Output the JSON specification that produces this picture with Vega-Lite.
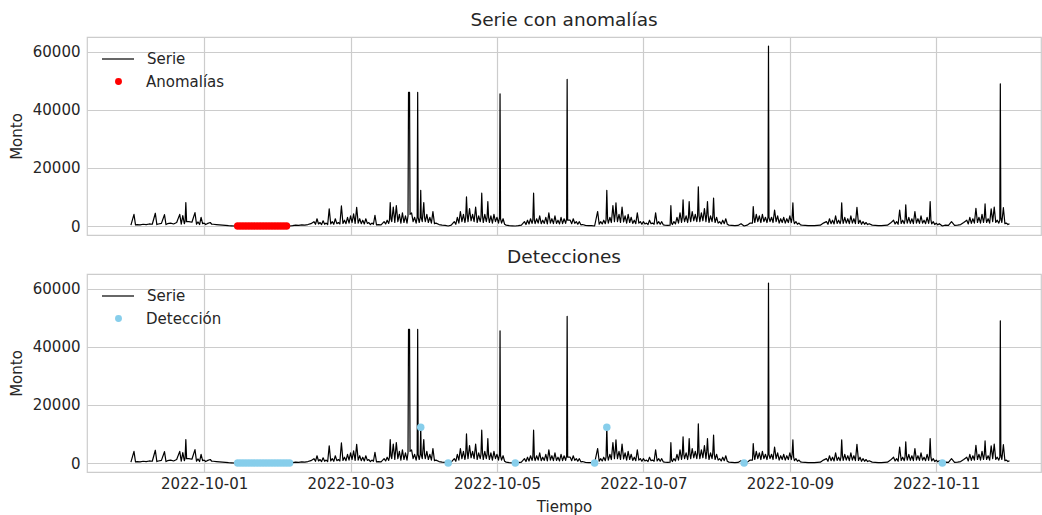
{
  "$schema": "https://vega.github.io/schema/vega-lite/v6.json",
  "background": "white",
  "padding": {"left": 8, "top": 9, "right": 0, "bottom": 0},
  "config": {
    "font": "DejaVu Sans",
    "view": {"stroke": "#cccccc", "strokeWidth": 1.2},
    "axis": {"labelFont": "DejaVu Sans", "labelFontSize": 15, "labelColor": "#262626", "titleFont": "DejaVu Sans", "titleFontSize": 15, "titleColor": "#262626", "titleFontWeight": "normal", "gridColor": "#cccccc", "gridWidth": 1.2, "gridOpacity": 1, "domain": false, "ticks": false, "labelPadding": 7, "titlePadding": 8},
    "title": {"font": "DejaVu Sans", "fontSize": 18.5, "fontWeight": "normal", "color": "#262626", "offset": 8, "frame": "group", "anchor": "middle"},
    "legend": {"labelFont": "DejaVu Sans", "labelFontSize": 15, "labelColor": "#262626", "title": null, "orient": "none", "padding": 0}
  },
  "datasets": {
    "serie": [
      {"t":"2022-09-30T00:00","v":300},{"t":"2022-09-30T01:00","v":4000},{"t":"2022-09-30T02:00","v":500},{"t":"2022-09-30T03:00","v":400},{"t":"2022-09-30T04:00","v":600},{"t":"2022-09-30T05:00","v":500},{"t":"2022-09-30T06:00","v":700},{"t":"2022-09-30T07:00","v":600},{"t":"2022-09-30T08:00","v":4400},{"t":"2022-09-30T09:00","v":700},{"t":"2022-09-30T10:00","v":900},{"t":"2022-09-30T11:00","v":3900},{"t":"2022-09-30T12:00","v":800},{"t":"2022-09-30T13:00","v":1000},{"t":"2022-09-30T14:00","v":700},{"t":"2022-09-30T15:00","v":1200},{"t":"2022-09-30T16:00","v":4000},{"t":"2022-09-30T17:00","v":3600},{"t":"2022-09-30T17:45","v":1500},{"t":"2022-09-30T18:00","v":8100},{"t":"2022-09-30T18:15","v":1500},{"t":"2022-09-30T19:00","v":1500},{"t":"2022-09-30T20:00","v":1300},{"t":"2022-09-30T21:00","v":4600},{"t":"2022-09-30T22:00","v":1400},{"t":"2022-09-30T23:00","v":3000},
      {"t":"2022-10-01T00:00","v":1000},{"t":"2022-10-01T01:00","v":800},{"t":"2022-10-01T02:00","v":1200},{"t":"2022-10-01T03:00","v":600},{"t":"2022-10-01T04:00","v":500},{"t":"2022-10-01T05:00","v":400},{"t":"2022-10-01T06:00","v":300},{"t":"2022-10-01T07:00","v":200},{"t":"2022-10-01T08:00","v":100},{"t":"2022-10-01T09:00","v":50},{"t":"2022-10-01T10:00","v":0},{"t":"2022-10-01T11:00","v":0},{"t":"2022-10-01T12:00","v":0},{"t":"2022-10-01T13:00","v":0},{"t":"2022-10-01T14:00","v":0},{"t":"2022-10-01T15:00","v":0},{"t":"2022-10-01T16:00","v":0},{"t":"2022-10-01T17:00","v":0},{"t":"2022-10-01T18:00","v":0},{"t":"2022-10-01T19:00","v":0},{"t":"2022-10-01T20:00","v":0},{"t":"2022-10-01T21:00","v":0},{"t":"2022-10-01T22:00","v":0},{"t":"2022-10-01T23:00","v":0},
      {"t":"2022-10-02T00:00","v":0},{"t":"2022-10-02T01:00","v":0},{"t":"2022-10-02T02:00","v":0},{"t":"2022-10-02T03:00","v":0},{"t":"2022-10-02T04:00","v":0},{"t":"2022-10-02T05:00","v":100},{"t":"2022-10-02T06:00","v":300},{"t":"2022-10-02T07:00","v":200},{"t":"2022-10-02T08:00","v":400},{"t":"2022-10-02T09:00","v":300},{"t":"2022-10-02T10:00","v":500},{"t":"2022-10-02T11:00","v":800},{"t":"2022-10-02T12:00","v":1500},{"t":"2022-10-02T13:00","v":2500},{"t":"2022-10-02T14:00","v":1200},{"t":"2022-10-02T15:00","v":1800},{"t":"2022-10-02T16:00","v":1000},{"t":"2022-10-02T17:00","v":5900},{"t":"2022-10-02T18:00","v":1500},{"t":"2022-10-02T19:00","v":2500},{"t":"2022-10-02T20:00","v":1200},{"t":"2022-10-02T21:00","v":6900},{"t":"2022-10-02T22:00","v":2000},{"t":"2022-10-02T23:00","v":3000},
      {"t":"2022-10-03T00:00","v":3500},{"t":"2022-10-03T01:00","v":4200},{"t":"2022-10-03T02:00","v":6400},{"t":"2022-10-03T03:00","v":2500},{"t":"2022-10-03T04:00","v":2000},{"t":"2022-10-03T05:00","v":2500},{"t":"2022-10-03T06:00","v":1200},{"t":"2022-10-03T07:00","v":1000},{"t":"2022-10-03T08:00","v":3700},{"t":"2022-10-03T09:00","v":500},{"t":"2022-10-03T10:00","v":400},{"t":"2022-10-03T11:00","v":1500},{"t":"2022-10-03T12:00","v":2000},{"t":"2022-10-03T12:45","v":2000},{"t":"2022-10-03T13:00","v":8100},{"t":"2022-10-03T13:15","v":2500},{"t":"2022-10-03T14:00","v":6500},{"t":"2022-10-03T15:00","v":7000},{"t":"2022-10-03T16:00","v":4000},{"t":"2022-10-03T17:00","v":4500},{"t":"2022-10-03T18:00","v":3500},{"t":"2022-10-03T18:50","v":3500},{"t":"2022-10-03T19:00","v":46000},{"t":"2022-10-03T19:20","v":46000},{"t":"2022-10-03T19:30","v":4000},{"t":"2022-10-03T20:00","v":4500},{"t":"2022-10-03T21:00","v":3000},{"t":"2022-10-03T21:50","v":3000},{"t":"2022-10-03T22:00","v":46000},{"t":"2022-10-03T22:10","v":3000},{"t":"2022-10-03T22:50","v":3000},{"t":"2022-10-03T23:00","v":12300},{"t":"2022-10-03T23:10","v":3000},
      {"t":"2022-10-04T00:00","v":8100},{"t":"2022-10-04T00:15","v":3000},{"t":"2022-10-04T01:00","v":4000},{"t":"2022-10-04T02:00","v":3000},{"t":"2022-10-04T03:00","v":5000},{"t":"2022-10-04T04:00","v":1000},{"t":"2022-10-04T05:00","v":500},{"t":"2022-10-04T06:00","v":300},{"t":"2022-10-04T07:00","v":200},{"t":"2022-10-04T08:00","v":0},{"t":"2022-10-04T09:00","v":300},{"t":"2022-10-04T10:00","v":1500},{"t":"2022-10-04T11:00","v":3000},{"t":"2022-10-04T12:00","v":5000},{"t":"2022-10-04T13:00","v":4000},{"t":"2022-10-04T13:45","v":3000},{"t":"2022-10-04T14:00","v":10000},{"t":"2022-10-04T14:15","v":4000},{"t":"2022-10-04T15:00","v":6000},{"t":"2022-10-04T16:00","v":4000},{"t":"2022-10-04T17:00","v":6500},{"t":"2022-10-04T18:00","v":3500},{"t":"2022-10-04T18:45","v":3000},{"t":"2022-10-04T19:00","v":11300},{"t":"2022-10-04T19:15","v":3500},{"t":"2022-10-04T20:00","v":4000},{"t":"2022-10-04T20:45","v":3000},{"t":"2022-10-04T21:00","v":8400},{"t":"2022-10-04T21:15","v":3000},{"t":"2022-10-04T22:00","v":3500},{"t":"2022-10-04T23:00","v":4000},
      {"t":"2022-10-05T00:00","v":3000},{"t":"2022-10-05T00:50","v":3000},{"t":"2022-10-05T01:00","v":45500},{"t":"2022-10-05T01:10","v":2500},{"t":"2022-10-05T02:00","v":2500},{"t":"2022-10-05T03:00","v":300},{"t":"2022-10-05T04:00","v":100},{"t":"2022-10-05T05:00","v":50},{"t":"2022-10-05T06:00","v":0},{"t":"2022-10-05T07:00","v":100},{"t":"2022-10-05T08:00","v":300},{"t":"2022-10-05T09:00","v":1500},{"t":"2022-10-05T10:00","v":2000},{"t":"2022-10-05T11:00","v":2500},{"t":"2022-10-05T11:45","v":2000},{"t":"2022-10-05T12:00","v":11300},{"t":"2022-10-05T12:15","v":2000},{"t":"2022-10-05T13:00","v":2500},{"t":"2022-10-05T14:00","v":3500},{"t":"2022-10-05T15:00","v":2000},{"t":"2022-10-05T16:00","v":3000},{"t":"2022-10-05T17:00","v":4500},{"t":"2022-10-05T18:00","v":2500},{"t":"2022-10-05T19:00","v":3500},{"t":"2022-10-05T20:00","v":2000},{"t":"2022-10-05T21:00","v":3000},{"t":"2022-10-05T22:00","v":2500},{"t":"2022-10-05T22:50","v":2500},{"t":"2022-10-05T23:00","v":50500},{"t":"2022-10-05T23:10","v":2000},
      {"t":"2022-10-06T00:00","v":2000},{"t":"2022-10-06T01:00","v":2500},{"t":"2022-10-06T02:00","v":1500},{"t":"2022-10-06T03:00","v":1500},{"t":"2022-10-06T04:00","v":500},{"t":"2022-10-06T05:00","v":200},{"t":"2022-10-06T06:00","v":100},{"t":"2022-10-06T07:00","v":100},{"t":"2022-10-06T08:00","v":0},{"t":"2022-10-06T09:00","v":5000},{"t":"2022-10-06T10:00","v":1500},{"t":"2022-10-06T11:00","v":2000},{"t":"2022-10-06T11:45","v":2000},{"t":"2022-10-06T12:00","v":12300},{"t":"2022-10-06T12:15","v":2500},{"t":"2022-10-06T13:00","v":3000},{"t":"2022-10-06T14:00","v":7000},{"t":"2022-10-06T14:45","v":4000},{"t":"2022-10-06T15:00","v":8000},{"t":"2022-10-06T15:15","v":4000},{"t":"2022-10-06T16:00","v":4000},{"t":"2022-10-06T17:00","v":6500},{"t":"2022-10-06T18:00","v":3500},{"t":"2022-10-06T19:00","v":4000},{"t":"2022-10-06T20:00","v":3000},{"t":"2022-10-06T21:00","v":2000},{"t":"2022-10-06T22:00","v":4500},{"t":"2022-10-06T23:00","v":1500},
      {"t":"2022-10-07T00:00","v":1500},{"t":"2022-10-07T01:00","v":1000},{"t":"2022-10-07T02:00","v":2000},{"t":"2022-10-07T03:00","v":1000},{"t":"2022-10-07T04:00","v":4500},{"t":"2022-10-07T05:00","v":1500},{"t":"2022-10-07T06:00","v":1500},{"t":"2022-10-07T07:00","v":300},{"t":"2022-10-07T08:00","v":200},{"t":"2022-10-07T08:45","v":300},{"t":"2022-10-07T09:00","v":7000},{"t":"2022-10-07T09:15","v":1000},{"t":"2022-10-07T10:00","v":1500},{"t":"2022-10-07T11:00","v":3000},{"t":"2022-10-07T12:00","v":4500},{"t":"2022-10-07T12:45","v":3000},{"t":"2022-10-07T13:00","v":9000},{"t":"2022-10-07T13:15","v":3000},{"t":"2022-10-07T14:00","v":3500},{"t":"2022-10-07T14:45","v":3000},{"t":"2022-10-07T15:00","v":8400},{"t":"2022-10-07T15:15","v":3000},{"t":"2022-10-07T16:00","v":5000},{"t":"2022-10-07T17:00","v":4000},{"t":"2022-10-07T17:45","v":3500},{"t":"2022-10-07T18:00","v":13500},{"t":"2022-10-07T18:15","v":3500},{"t":"2022-10-07T19:00","v":4500},{"t":"2022-10-07T20:00","v":6000},{"t":"2022-10-07T20:45","v":4000},{"t":"2022-10-07T21:00","v":8400},{"t":"2022-10-07T21:15","v":3500},{"t":"2022-10-07T22:00","v":3500},{"t":"2022-10-07T22:45","v":3500},{"t":"2022-10-07T23:00","v":9600},{"t":"2022-10-07T23:15","v":3000},
      {"t":"2022-10-08T00:00","v":3000},{"t":"2022-10-08T01:00","v":1500},{"t":"2022-10-08T02:00","v":2000},{"t":"2022-10-08T03:00","v":2500},{"t":"2022-10-08T04:00","v":300},{"t":"2022-10-08T05:00","v":200},{"t":"2022-10-08T06:00","v":100},{"t":"2022-10-08T07:00","v":200},{"t":"2022-10-08T08:00","v":800},{"t":"2022-10-08T09:00","v":0},{"t":"2022-10-08T10:00","v":300},{"t":"2022-10-08T11:00","v":1000},{"t":"2022-10-08T11:45","v":1000},{"t":"2022-10-08T12:00","v":6700},{"t":"2022-10-08T12:15","v":3000},{"t":"2022-10-08T13:00","v":4000},{"t":"2022-10-08T14:00","v":3500},{"t":"2022-10-08T15:00","v":4000},{"t":"2022-10-08T16:00","v":3000},{"t":"2022-10-08T16:50","v":3000},{"t":"2022-10-08T17:00","v":62000},{"t":"2022-10-08T17:10","v":3000},{"t":"2022-10-08T18:00","v":3000},{"t":"2022-10-08T19:00","v":5500},{"t":"2022-10-08T20:00","v":3500},{"t":"2022-10-08T21:00","v":2500},{"t":"2022-10-08T22:00","v":3000},{"t":"2022-10-08T23:00","v":2500},
      {"t":"2022-10-09T00:00","v":3500},{"t":"2022-10-09T00:45","v":3000},{"t":"2022-10-09T01:00","v":8000},{"t":"2022-10-09T01:15","v":2000},{"t":"2022-10-09T02:00","v":1500},{"t":"2022-10-09T03:00","v":1000},{"t":"2022-10-09T04:00","v":300},{"t":"2022-10-09T05:00","v":200},{"t":"2022-10-09T06:00","v":100},{"t":"2022-10-09T07:00","v":100},{"t":"2022-10-09T08:00","v":100},{"t":"2022-10-09T09:00","v":200},{"t":"2022-10-09T10:00","v":300},{"t":"2022-10-09T11:00","v":1000},{"t":"2022-10-09T12:00","v":1500},{"t":"2022-10-09T13:00","v":2500},{"t":"2022-10-09T14:00","v":2000},{"t":"2022-10-09T15:00","v":3500},{"t":"2022-10-09T16:00","v":2000},{"t":"2022-10-09T16:45","v":2000},{"t":"2022-10-09T17:00","v":8000},{"t":"2022-10-09T17:15","v":2500},{"t":"2022-10-09T18:00","v":3000},{"t":"2022-10-09T19:00","v":2500},{"t":"2022-10-09T20:00","v":3500},{"t":"2022-10-09T21:00","v":2500},{"t":"2022-10-09T22:00","v":6400},{"t":"2022-10-09T23:00","v":2000},
      {"t":"2022-10-10T00:00","v":1500},{"t":"2022-10-10T01:00","v":1200},{"t":"2022-10-10T02:00","v":800},{"t":"2022-10-10T03:00","v":300},{"t":"2022-10-10T04:00","v":200},{"t":"2022-10-10T05:00","v":100},{"t":"2022-10-10T06:00","v":100},{"t":"2022-10-10T07:00","v":200},{"t":"2022-10-10T08:00","v":300},{"t":"2022-10-10T09:00","v":1000},{"t":"2022-10-10T10:00","v":2000},{"t":"2022-10-10T11:00","v":1500},{"t":"2022-10-10T12:00","v":5500},{"t":"2022-10-10T13:00","v":2000},{"t":"2022-10-10T13:45","v":2000},{"t":"2022-10-10T14:00","v":7300},{"t":"2022-10-10T14:15","v":2500},{"t":"2022-10-10T15:00","v":3000},{"t":"2022-10-10T16:00","v":2500},{"t":"2022-10-10T17:00","v":5000},{"t":"2022-10-10T18:00","v":2500},{"t":"2022-10-10T19:00","v":3500},{"t":"2022-10-10T20:00","v":2000},{"t":"2022-10-10T21:00","v":3000},{"t":"2022-10-10T21:45","v":2500},{"t":"2022-10-10T22:00","v":8400},{"t":"2022-10-10T22:15","v":2000},{"t":"2022-10-10T23:00","v":1500},
      {"t":"2022-10-11T00:00","v":1000},{"t":"2022-10-11T01:00","v":800},{"t":"2022-10-11T02:00","v":0},{"t":"2022-10-11T03:00","v":300},{"t":"2022-10-11T04:00","v":200},{"t":"2022-10-11T05:00","v":1500},{"t":"2022-10-11T06:00","v":200},{"t":"2022-10-11T07:00","v":300},{"t":"2022-10-11T08:00","v":500},{"t":"2022-10-11T09:00","v":1200},{"t":"2022-10-11T10:00","v":2000},{"t":"2022-10-11T11:00","v":3000},{"t":"2022-10-11T12:00","v":2500},{"t":"2022-10-11T13:00","v":6100},{"t":"2022-10-11T14:00","v":3000},{"t":"2022-10-11T15:00","v":4000},{"t":"2022-10-11T15:45","v":3000},{"t":"2022-10-11T16:00","v":7600},{"t":"2022-10-11T16:15","v":3000},{"t":"2022-10-11T17:00","v":2500},{"t":"2022-10-11T18:00","v":5900},{"t":"2022-10-11T19:00","v":6500},{"t":"2022-10-11T20:00","v":2000},{"t":"2022-10-11T20:50","v":2000},{"t":"2022-10-11T21:00","v":49000},{"t":"2022-10-11T21:10","v":3000},{"t":"2022-10-11T22:00","v":6300},{"t":"2022-10-11T23:00","v":1000},
      {"t":"2022-10-12T00:00","v":800},
      {"t":"2022-09-30T01:30","v":400},{"t":"2022-09-30T08:30","v":500},{"t":"2022-09-30T11:30","v":500},{"t":"2022-09-30T16:30","v":600},{"t":"2022-09-30T17:30","v":800},{"t":"2022-09-30T21:30","v":600},{"t":"2022-09-30T22:30","v":500},{"t":"2022-09-30T23:30","v":800},
      {"t":"2022-10-01T00:30","v":500},{"t":"2022-10-01T02:30","v":600},
      {"t":"2022-10-02T12:30","v":600},{"t":"2022-10-02T13:30","v":700},{"t":"2022-10-02T14:30","v":500},{"t":"2022-10-02T15:30","v":600},{"t":"2022-10-02T16:30","v":500},{"t":"2022-10-02T17:30","v":700},{"t":"2022-10-02T18:30","v":600},{"t":"2022-10-02T19:30","v":800},{"t":"2022-10-02T20:30","v":700},{"t":"2022-10-02T21:30","v":900},{"t":"2022-10-02T22:30","v":800},{"t":"2022-10-02T23:30","v":1000},
      {"t":"2022-10-03T00:30","v":1200},{"t":"2022-10-03T01:30","v":900},{"t":"2022-10-03T02:30","v":1000},{"t":"2022-10-03T03:30","v":800},{"t":"2022-10-03T04:30","v":700},{"t":"2022-10-03T05:30","v":900},{"t":"2022-10-03T06:30","v":500},{"t":"2022-10-03T07:30","v":600},{"t":"2022-10-03T08:30","v":400},{"t":"2022-10-03T11:30","v":700},{"t":"2022-10-03T12:30","v":900},{"t":"2022-10-03T13:30","v":1500},{"t":"2022-10-03T14:30","v":1200},{"t":"2022-10-03T15:30","v":1500},{"t":"2022-10-03T16:30","v":1000},{"t":"2022-10-03T17:30","v":1200},{"t":"2022-10-03T18:30","v":1000},{"t":"2022-10-03T20:30","v":1500},{"t":"2022-10-03T21:30","v":1000},{"t":"2022-10-03T22:30","v":1200},{"t":"2022-10-03T23:30","v":1500},
      {"t":"2022-10-04T00:30","v":1500},{"t":"2022-10-04T01:30","v":1200},{"t":"2022-10-04T02:30","v":1000},{"t":"2022-10-04T03:30","v":800},{"t":"2022-10-04T10:30","v":600},{"t":"2022-10-04T11:30","v":1000},{"t":"2022-10-04T12:30","v":1500},{"t":"2022-10-04T13:30","v":1200},{"t":"2022-10-04T14:30","v":1500},{"t":"2022-10-04T15:30","v":1800},{"t":"2022-10-04T16:30","v":1500},{"t":"2022-10-04T17:30","v":1200},{"t":"2022-10-04T18:30","v":1500},{"t":"2022-10-04T19:30","v":1200},{"t":"2022-10-04T20:30","v":1500},{"t":"2022-10-04T21:30","v":1200},{"t":"2022-10-04T22:30","v":1000},{"t":"2022-10-04T23:30","v":1500},
      {"t":"2022-10-05T00:30","v":1000},{"t":"2022-10-05T01:30","v":1000},{"t":"2022-10-05T02:30","v":600},{"t":"2022-10-05T09:30","v":500},{"t":"2022-10-05T10:30","v":700},{"t":"2022-10-05T11:30","v":900},{"t":"2022-10-05T12:30","v":800},{"t":"2022-10-05T13:30","v":1000},{"t":"2022-10-05T14:30","v":800},{"t":"2022-10-05T15:30","v":900},{"t":"2022-10-05T16:30","v":700},{"t":"2022-10-05T17:30","v":1000},{"t":"2022-10-05T18:30","v":800},{"t":"2022-10-05T19:30","v":900},{"t":"2022-10-05T20:30","v":700},{"t":"2022-10-05T21:30","v":800},{"t":"2022-10-05T22:30","v":900},
      {"t":"2022-10-06T00:30","v":800},{"t":"2022-10-06T01:30","v":900},{"t":"2022-10-06T02:30","v":600},{"t":"2022-10-06T03:30","v":400},{"t":"2022-10-06T09:30","v":600},{"t":"2022-10-06T10:30","v":700},{"t":"2022-10-06T11:30","v":800},{"t":"2022-10-06T12:30","v":1000},{"t":"2022-10-06T13:30","v":1200},{"t":"2022-10-06T14:30","v":1500},{"t":"2022-10-06T15:30","v":1500},{"t":"2022-10-06T16:30","v":1200},{"t":"2022-10-06T17:30","v":1400},{"t":"2022-10-06T18:30","v":1000},{"t":"2022-10-06T19:30","v":1200},{"t":"2022-10-06T20:30","v":900},{"t":"2022-10-06T21:30","v":800},{"t":"2022-10-06T22:30","v":1000},{"t":"2022-10-06T23:30","v":600},
      {"t":"2022-10-07T00:30","v":700},{"t":"2022-10-07T01:30","v":500},{"t":"2022-10-07T02:30","v":800},{"t":"2022-10-07T03:30","v":600},{"t":"2022-10-07T04:30","v":700},{"t":"2022-10-07T05:30","v":600},{"t":"2022-10-07T06:30","v":400},{"t":"2022-10-07T09:30","v":500},{"t":"2022-10-07T10:30","v":700},{"t":"2022-10-07T11:30","v":1000},{"t":"2022-10-07T12:30","v":1200},{"t":"2022-10-07T13:30","v":1500},{"t":"2022-10-07T14:30","v":1200},{"t":"2022-10-07T15:30","v":1500},{"t":"2022-10-07T16:30","v":1800},{"t":"2022-10-07T17:30","v":1500},{"t":"2022-10-07T18:30","v":1500},{"t":"2022-10-07T19:30","v":1800},{"t":"2022-10-07T20:30","v":1500},{"t":"2022-10-07T21:30","v":1200},{"t":"2022-10-07T22:30","v":1500},{"t":"2022-10-07T23:30","v":1200},
      {"t":"2022-10-08T00:30","v":1000},{"t":"2022-10-08T01:30","v":700},{"t":"2022-10-08T02:30","v":800},{"t":"2022-10-08T03:30","v":600},{"t":"2022-10-08T12:30","v":1200},{"t":"2022-10-08T13:30","v":1500},{"t":"2022-10-08T14:30","v":1200},{"t":"2022-10-08T15:30","v":1500},{"t":"2022-10-08T16:30","v":1200},{"t":"2022-10-08T17:30","v":1500},{"t":"2022-10-08T18:30","v":1200},{"t":"2022-10-08T19:30","v":1500},{"t":"2022-10-08T20:30","v":1000},{"t":"2022-10-08T21:30","v":1200},{"t":"2022-10-08T22:30","v":1000},{"t":"2022-10-08T23:30","v":1200},
      {"t":"2022-10-09T00:30","v":1200},{"t":"2022-10-09T01:30","v":800},{"t":"2022-10-09T02:30","v":600},{"t":"2022-10-09T03:30","v":400},{"t":"2022-10-09T12:30","v":600},{"t":"2022-10-09T13:30","v":800},{"t":"2022-10-09T14:30","v":700},{"t":"2022-10-09T15:30","v":900},{"t":"2022-10-09T16:30","v":800},{"t":"2022-10-09T17:30","v":900},{"t":"2022-10-09T18:30","v":1000},{"t":"2022-10-09T19:30","v":800},{"t":"2022-10-09T20:30","v":1000},{"t":"2022-10-09T21:30","v":800},{"t":"2022-10-09T22:30","v":900},{"t":"2022-10-09T23:30","v":600},
      {"t":"2022-10-10T00:30","v":600},{"t":"2022-10-10T01:30","v":500},{"t":"2022-10-10T10:30","v":700},{"t":"2022-10-10T11:30","v":600},{"t":"2022-10-10T12:30","v":900},{"t":"2022-10-10T13:30","v":800},{"t":"2022-10-10T14:30","v":1000},{"t":"2022-10-10T15:30","v":900},{"t":"2022-10-10T16:30","v":800},{"t":"2022-10-10T17:30","v":1000},{"t":"2022-10-10T18:30","v":900},{"t":"2022-10-10T19:30","v":1000},{"t":"2022-10-10T20:30","v":800},{"t":"2022-10-10T21:30","v":900},{"t":"2022-10-10T22:30","v":700},{"t":"2022-10-10T23:30","v":500},
      {"t":"2022-10-11T00:30","v":400},{"t":"2022-10-11T10:30","v":700},{"t":"2022-10-11T11:30","v":900},{"t":"2022-10-11T12:30","v":1000},{"t":"2022-10-11T13:30","v":1200},{"t":"2022-10-11T14:30","v":1000},{"t":"2022-10-11T15:30","v":1200},{"t":"2022-10-11T16:30","v":1200},{"t":"2022-10-11T17:30","v":1000},{"t":"2022-10-11T18:30","v":1500},{"t":"2022-10-11T19:30","v":1200},{"t":"2022-10-11T20:30","v":1000},{"t":"2022-10-11T21:30","v":1200},{"t":"2022-10-11T22:30","v":800},{"t":"2022-10-11T23:30","v":500}
    ],
    "anom": [
      {"t":"2022-10-01T11:00","v":0},{"t":"2022-10-01T12:00","v":0},{"t":"2022-10-01T13:00","v":0},{"t":"2022-10-01T14:00","v":0},{"t":"2022-10-01T15:00","v":0},{"t":"2022-10-01T16:00","v":0},{"t":"2022-10-01T17:00","v":0},{"t":"2022-10-01T18:00","v":0},{"t":"2022-10-01T19:00","v":0},{"t":"2022-10-01T20:00","v":0},{"t":"2022-10-01T21:00","v":0},{"t":"2022-10-01T22:00","v":0},{"t":"2022-10-01T23:00","v":0},{"t":"2022-10-02T00:00","v":0},{"t":"2022-10-02T01:00","v":0},{"t":"2022-10-02T02:00","v":0},{"t":"2022-10-02T03:00","v":0}
    ],
    "det": [
      {"t":"2022-10-01T11:00","v":0},{"t":"2022-10-01T12:00","v":0},{"t":"2022-10-01T13:00","v":0},{"t":"2022-10-01T14:00","v":0},{"t":"2022-10-01T15:00","v":0},{"t":"2022-10-01T16:00","v":0},{"t":"2022-10-01T17:00","v":0},{"t":"2022-10-01T18:00","v":0},{"t":"2022-10-01T19:00","v":0},{"t":"2022-10-01T20:00","v":0},{"t":"2022-10-01T21:00","v":0},{"t":"2022-10-01T22:00","v":0},{"t":"2022-10-01T23:00","v":0},{"t":"2022-10-02T00:00","v":0},{"t":"2022-10-02T01:00","v":0},{"t":"2022-10-02T02:00","v":0},{"t":"2022-10-02T03:00","v":0},{"t":"2022-10-02T04:00","v":0},
      {"t":"2022-10-03T23:00","v":12300},{"t":"2022-10-04T08:00","v":0},{"t":"2022-10-05T06:00","v":0},{"t":"2022-10-06T08:00","v":0},{"t":"2022-10-06T12:00","v":12300},{"t":"2022-10-08T09:00","v":0},{"t":"2022-10-11T02:00","v":0}
    ]
  },
  "vconcat": [
    {
      "title": "Serie con anomalías",
      "width": 954,
      "height": 198,
      "encoding": {
        "x": {"field": "t", "type": "temporal", "scale": {"domain": [{"year": 2022, "month": 9, "date": 29, "hours": 9, "minutes": 36}, {"year": 2022, "month": 10, "date": 12, "hours": 10, "minutes": 20}]}, "axis": {"labels": false, "title": null, "values": [{"year": 2022, "month": 10, "date": 1}, {"year": 2022, "month": 10, "date": 3}, {"year": 2022, "month": 10, "date": 5}, {"year": 2022, "month": 10, "date": 7}, {"year": 2022, "month": 10, "date": 9}, {"year": 2022, "month": 10, "date": 11}]}},
        "y": {"field": "v", "type": "quantitative", "scale": {"domain": [-3100, 65100], "nice": false, "zero": false}, "axis": {"values": [0, 20000, 40000, 60000], "format": "d", "title": "Monto"}}
      },
      "layer": [
        {
          "data": {"name": "serie"},
          "mark": {"type": "line", "strokeWidth": 1.2, "strokeJoin": "round"},
          "encoding": {
            "color": {"datum": "Serie", "scale": {"domain": ["Serie"], "range": ["black"]},
              "legend": {"legendX": 14, "legendY": 5, "symbolType": "stroke", "symbolSize": 1024, "symbolStrokeWidth": 1.2, "labelOffset": 12}}
          }
        },
        {
          "data": {"name": "anom"},
          "mark": {"type": "point", "filled": true, "size": 56, "opacity": 1, "color": "red"},
          "encoding": {
            "shape": {"datum": "Anomalías", "scale": {"domain": ["Anomalías"], "range": ["circle"]},
              "legend": {"legendX": 24, "legendY": 37, "symbolSize": 48, "symbolFillColor": "red", "symbolStrokeColor": "red", "symbolOpacity": 1, "labelOffset": 20}}
          }
        }
      ]
    },
    {
      "title": "Detecciones",
      "width": 954,
      "height": 198,
      "encoding": {
        "x": {"field": "t", "type": "temporal", "scale": {"domain": [{"year": 2022, "month": 9, "date": 29, "hours": 9, "minutes": 36}, {"year": 2022, "month": 10, "date": 12, "hours": 10, "minutes": 20}]}, "axis": {"title": "Tiempo", "format": "%Y-%m-%d", "labelOverlap": false, "labelPadding": 4, "titlePadding": 8, "values": [{"year": 2022, "month": 10, "date": 1}, {"year": 2022, "month": 10, "date": 3}, {"year": 2022, "month": 10, "date": 5}, {"year": 2022, "month": 10, "date": 7}, {"year": 2022, "month": 10, "date": 9}, {"year": 2022, "month": 10, "date": 11}]}},
        "y": {"field": "v", "type": "quantitative", "scale": {"domain": [-3100, 65100], "nice": false, "zero": false}, "axis": {"values": [0, 20000, 40000, 60000], "format": "d", "title": "Monto"}}
      },
      "layer": [
        {
          "data": {"name": "serie"},
          "mark": {"type": "line", "strokeWidth": 1.2, "strokeJoin": "round"},
          "encoding": {
            "color": {"datum": "Serie", "scale": {"domain": ["Serie"], "range": ["black"]},
              "legend": {"legendX": 14, "legendY": 5, "symbolType": "stroke", "symbolSize": 1024, "symbolStrokeWidth": 1.2, "labelOffset": 12}}
          }
        },
        {
          "data": {"name": "det"},
          "mark": {"type": "point", "filled": true, "size": 56, "opacity": 1, "color": "skyblue"},
          "encoding": {
            "shape": {"datum": "Detección", "scale": {"domain": ["Detección"], "range": ["circle"]},
              "legend": {"legendX": 24, "legendY": 37, "symbolSize": 48, "symbolFillColor": "skyblue", "symbolStrokeColor": "skyblue", "symbolOpacity": 1, "labelOffset": 20}}
          }
        }
      ]
    }
  ],
  "spacing": 10,
  "resolve": {"scale": {"color": "independent", "shape": "independent"}, "legend": {"color": "independent", "shape": "independent"}}
}
